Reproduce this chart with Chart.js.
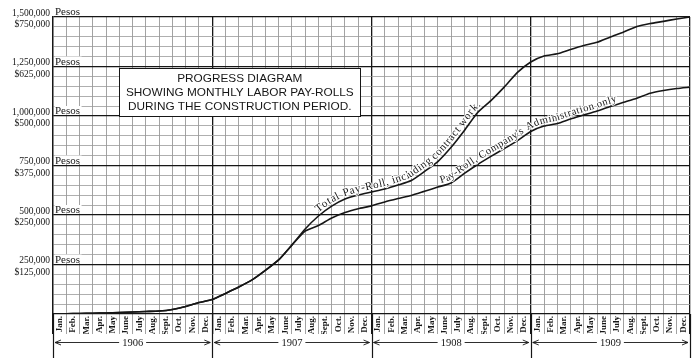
<!DOCTYPE html>
<html>
<head>
<meta charset="utf-8">
<script src="https://cdn.jsdelivr.net/npm/chart.js@4.4.0/dist/chart.umd.min.js"></script>
<style>
  html, body { margin: 0; padding: 0; background: #fff; }
  #wrap { width: 700px; height: 358px; position: relative; }
</style>
</head>
<body>
<div id="wrap"><canvas id="chart"></canvas></div>
<script>
const years = ['1906', '1907', '1908', '1909'];
const monthNames = ['Jan.', 'Feb.', 'Mar.', 'Apr.', 'May', 'June', 'July', 'Aug.', 'Sept.', 'Oct.', 'Nov.', 'Dec.'];

// pay-roll level in pesos at each month boundary, Jan 1906 .. end of Dec 1909
const totalPayroll = [0, 1000, 2500, 3500, 5000, 7500, 10000, 12500, 15000, 23000, 38000, 58000,
  73000, 104000, 136000, 172000, 220000, 273000, 348000, 429000, 495000, 545000, 581000, 601000,
  616000, 631000, 651000, 674000, 720000, 770000, 842000, 927000, 1018000, 1078000, 1146000, 1220000,
  1273000, 1303000, 1314000, 1336000, 1356000, 1372000, 1399000, 1424000, 1452000, 1467000, 1478000, 1490000,
  1500000];
const adminPayroll = [0, 1000, 2500, 3500, 5000, 7500, 10000, 12500, 15000, 23000, 38000, 58000,
  73000, 104000, 136000, 172000, 220000, 273000, 348000, 419000, 447000, 485000, 513000, 532000,
  546000, 566000, 583000, 599000, 620000, 641000, 662000, 710000, 755000, 796000, 835000, 876000,
  922000, 949000, 962000, 985000, 1005000, 1025000, 1048000, 1069000, 1090000, 1115000, 1129000, 1139000,
  1146000];

const pesoTicks = [250000, 500000, 750000, 1000000, 1250000, 1500000];
const dollarTicks = ['$125,000', '$250,000', '$375,000', '$500,000', '$625,000', '$750,000'];

const titleLines = ['PROGRESS DIAGRAM', 'SHOWING MONTHLY LABOR PAY-ROLLS', 'DURING THE CONSTRUCTION PERIOD.'];
const totalLabel = 'Total Pay-Roll, including contract work.';
const adminLabel = "Pay-Roll, Company's Administration only";

const monthLabels = years.flatMap(() => monthNames);
const ink = '#161616';
const serif = '"Liberation Serif", "DejaVu Serif", serif';

// writes text char by char along the drawn line of a dataset
function textOnCurve(ctx, pts, text, fromX, lift, spacing) {
  const d = [0];
  for (let i = 1; i < pts.length; i++) {
    d.push(d[i - 1] + Math.hypot(pts[i].x - pts[i - 1].x, pts[i].y - pts[i - 1].y));
  }
  const at = s => {
    let i = 0;
    while (i < pts.length - 2 && d[i + 1] < s) i++;
    const t = (s - d[i]) / (d[i + 1] - d[i]);
    return { x: pts[i].x + t * (pts[i + 1].x - pts[i].x), y: pts[i].y + t * (pts[i + 1].y - pts[i].y) };
  };
  let seg = 0;
  while (pts[seg + 1].x < fromX) seg++;
  let s = d[seg] + (fromX - pts[seg].x) / (pts[seg + 1].x - pts[seg].x) * (d[seg + 1] - d[seg]);
  for (const ch of text) {
    const w = ctx.measureText(ch).width;
    const p = at(s), q = at(s + w);
    ctx.save();
    ctx.translate(p.x, p.y);
    ctx.rotate(Math.atan2(q.y - p.y, q.x - p.x));
    ctx.strokeText(ch, 0, -lift);
    ctx.fillText(ch, 0, -lift);
    ctx.restore();
    s += w + spacing;
  }
}

const decor = {
  id: 'decor',
  afterDatasetsDraw(chart) {
    const { ctx, chartArea: a, scales } = chart;
    const xd = scales.xd, y = scales.y;
    ctx.save();

    // "Pesos" beside each major line
    ctx.font = '11px ' + serif;
    ctx.textBaseline = 'alphabetic';
    pesoTicks.forEach(v => {
      const py = y.getPixelForValue(v);
      const w = ctx.measureText('Pesos').width;
      ctx.fillStyle = '#fff';
      ctx.fillRect(a.left + 1.5, py - 10, w + 2, 8.5);
      ctx.fillStyle = ink;
      ctx.fillText('Pesos', a.left + 2, py - 2);
    });

    // title box
    const bx0 = xd.getPixelForValue(5), bx1 = xd.getPixelForValue(23.15);
    const by0 = y.getPixelForValue(1240000), by1 = y.getPixelForValue(1000000);
    ctx.fillStyle = '#fff';
    ctx.fillRect(bx0, by0, bx1 - bx0, by1 - by0);
    ctx.strokeStyle = ink;
    ctx.lineWidth = 1;
    ctx.strokeRect(Math.round(bx0) + 0.5, Math.round(by0) + 0.5, Math.round(bx1 - bx0), Math.round(by1 - by0));
    ctx.fillStyle = ink;
    ctx.font = '11.8px "Liberation Sans", Arial, sans-serif';
    ctx.textAlign = 'center';
    ctx.textBaseline = 'middle';
    const cy = (by0 + by1) / 2 + 0.5;
    titleLines.forEach((t, i) => ctx.fillText(t, (bx0 + bx1) / 2, cy + (i - 1) * 14));

    // labels written along the curves
    ctx.textAlign = 'left';
    ctx.textBaseline = 'alphabetic';
    ctx.strokeStyle = '#fff';
    ctx.lineWidth = 2;
    ctx.fillStyle = ink;
    ctx.font = '11px ' + serif;
    textOnCurve(ctx, chart.getDatasetMeta(0).data, totalLabel, 320, 3, 0.6);
    ctx.font = '10.5px ' + serif;
    textOnCurve(ctx, chart.getDatasetMeta(1).data, adminLabel, 442, 3, 0.5);

    // year row with arrows
    const rowY = a.bottom + 28.5;
    ctx.strokeStyle = ink;
    ctx.lineWidth = 1.2;
    for (let i = 0; i <= years.length; i++) {
      const px = Math.round(xd.getPixelForValue(i * 12)) + 0.5;
      ctx.beginPath();
      ctx.moveTo(px, a.bottom);
      ctx.lineTo(px, chart.height);
      ctx.stroke();
    }
    ctx.font = '10.5px ' + serif;
    ctx.textAlign = 'center';
    ctx.textBaseline = 'middle';
    ctx.lineWidth = 0.9;
    years.forEach((yr, i) => {
      const x0 = xd.getPixelForValue(i * 12) + 2, x1 = xd.getPixelForValue(i * 12 + 12) - 2;
      const mid = (x0 + x1) / 2;
      const half = ctx.measureText(yr).width / 2 + 3;
      ctx.beginPath();
      ctx.moveTo(x0, rowY); ctx.lineTo(mid - half, rowY);
      ctx.moveTo(mid + half, rowY); ctx.lineTo(x1, rowY);
      ctx.moveTo(x0 + 6, rowY - 2.5); ctx.lineTo(x0, rowY); ctx.lineTo(x0 + 6, rowY + 2.5);
      ctx.moveTo(x1 - 6, rowY - 2.5); ctx.lineTo(x1, rowY); ctx.lineTo(x1 - 6, rowY + 2.5);
      ctx.stroke();
      ctx.fillText(yr, mid, rowY + 0.5);
    });
    ctx.restore();
  }
};

new Chart(document.getElementById('chart'), {
  type: 'line',
  data: {
    labels: monthLabels,
    datasets: [
      { data: totalPayroll.map((v, i) => ({ x: i, y: v })) },
      { data: adminPayroll.map((v, i) => ({ x: i, y: v })) }
    ]
  },
  options: {
    responsive: true,
    maintainAspectRatio: false,
    animation: false,
    layout: { padding: { top: 17, right: 10, bottom: 24, left: 0 } },
    elements: {
      point: { radius: 0 },
      line: { borderColor: ink, borderWidth: 1.6, tension: 0.2 }
    },
    datasets: { line: { xAxisID: 'xd', yAxisID: 'y' } },
    plugins: { legend: { display: false }, tooltip: { enabled: false } },
    scales: {
      xd: { type: 'linear', min: 0, max: 48, display: false },
      x: {
        type: 'category',
        position: 'bottom',
        offset: true,
        afterFit: s => { s.height = 20; },
        grid: {
          offset: true,
          tickLength: 20,
          color: c => (c.index === undefined || c.index % 12 === 0) ? ink : '#8c8c8c',
          lineWidth: c => (c.index === undefined || c.index % 12 === 0) ? 1.3 : 0.8
        },
        border: { display: false },
        ticks: {
          autoSkip: false,
          minRotation: 90,
          maxRotation: 90,
          padding: -18,
          color: ink,
          font: { family: serif, size: 9, weight: 'bold' }
        }
      },
      y: {
        type: 'linear',
        min: 0,
        max: 1500000,
        afterFit: s => { s.width = 53; },
        grid: {
          drawTicks: false,
          color: c => c.tick.value % 250000 === 0 ? ink : '#9a9a9a',
          lineWidth: c => c.tick.value % 250000 === 0 ? 1.2 : 0.8
        },
        border: { color: ink, width: 1.3 },
        ticks: {
          stepSize: 50000,
          maxTicksLimit: 40,
          autoSkip: false,
          padding: 3,
          labelOffset: 2,
          color: ink,
          font: { family: serif, size: 9.5, lineHeight: 1.2 },
          callback: v => {
            const i = pesoTicks.indexOf(v);
            return i < 0 ? '' : [v.toLocaleString('en-US'), dollarTicks[i]];
          }
        }
      }
    }
  },
  plugins: [decor]
});
</script>
</body>
</html>
